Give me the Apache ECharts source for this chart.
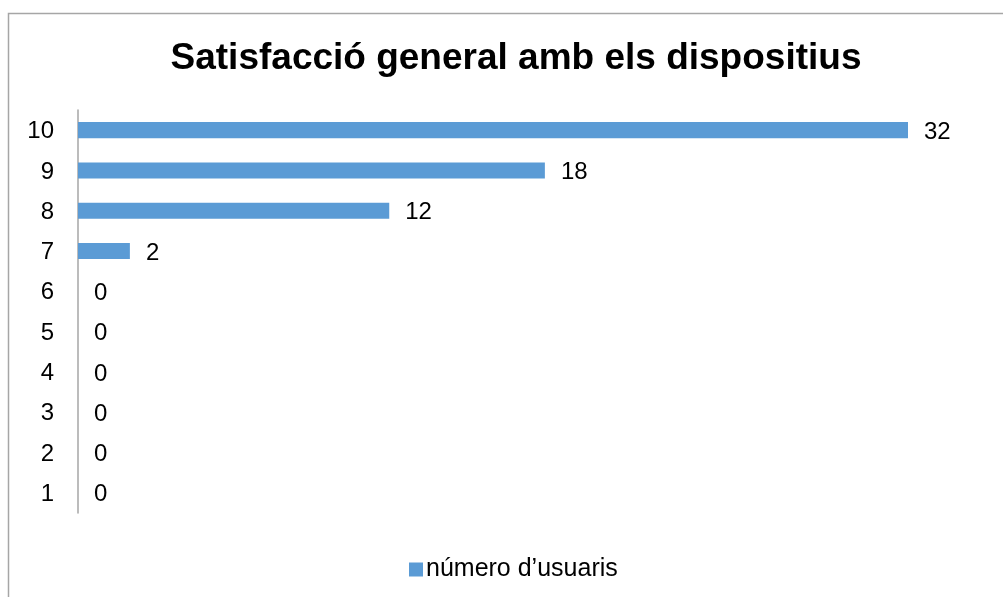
<!DOCTYPE html>
<html>
<head>
<meta charset="utf-8">
<style>
  html, body { margin: 0; padding: 0; background: #fff; }
  #chart { width: 1003px; height: 597px; }
</style>
<script src="https://cdn.jsdelivr.net/npm/echarts@6/dist/echarts.min.js"></script>
</head>
<body>
<div id="chart"></div>
<script>
// Satisfaction scores (1–10) and how many users gave each one
const scores = ['1', '2', '3', '4', '5', '6', '7', '8', '9', '10'];
const users = [0, 0, 0, 0, 0, 0, 2, 12, 18, 32];
const seriesName = 'número d’usuaris';
const titleText = 'Satisfacció general amb els dispositius';

const chart = echarts.init(document.getElementById('chart'));
const font = '"Liberation Sans", Arial, sans-serif';

chart.setOption({
  backgroundColor: '#ffffff',
  animation: false,
  graphic: [{
    type: 'rect',
    shape: { x: 8.5, y: 13.5, width: 1100, height: 700 },
    style: { fill: 'none', stroke: '#a6a6a6', lineWidth: 1.5 },
    silent: true
  }],
  title: {
    text: titleText,
    left: 511,
    textAlign: 'center',
    top: 35,
    textStyle: { fontFamily: font, fontSize: 37, fontWeight: 'bold', color: '#000' }
  },
  legend: {
    data: [seriesName],
    left: 404,
    top: 552,
    icon: 'rect',
    itemWidth: 14,
    itemHeight: 14,
    itemGap: 4,
    textStyle: { fontFamily: font, fontSize: 25, color: '#000', padding: [2, 0, 0, -2] }
  },
  grid: { left: 78, right: 95, top: 110, height: 403, containLabel: false },
  xAxis: {
    type: 'value',
    min: 0,
    max: 32,
    show: false
  },
  yAxis: {
    type: 'category',
    data: scores,
    axisLine: { lineStyle: { color: '#a6a6a6', width: 1.5 } },
    axisTick: { show: false },
    axisLabel: {
      margin: 24,
      formatter: '{v|{value}}',
      rich: { v: { fontFamily: font, fontSize: 24, color: '#000', padding: [3, 0, 0, 0] } }
    },
    splitLine: { show: false }
  },
  series: [{
    name: seriesName,
    type: 'bar',
    data: users,
    barWidth: '40%',
    itemStyle: { color: '#5b9bd5' },
    label: {
      show: true,
      position: 'right',
      distance: 16,
      offset: [0, 2],
      fontFamily: font,
      fontSize: 24,
      color: '#000'
    }
  }]
});
</script>
</body>
</html>
